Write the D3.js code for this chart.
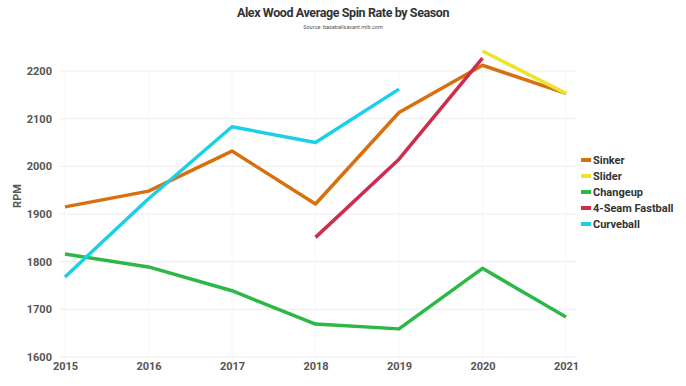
<!DOCTYPE html>
<html>
<head>
<meta charset="utf-8">
<script src="https://cdn.jsdelivr.net/npm/d3@7"></script>
<style>
  body { margin: 0; background: #fff; }
  svg text { font-family: Roboto, "Liberation Sans", sans-serif; }
</style>
</head>
<body>
<div id="chart"></div>
<script>
// data
const years = [2015, 2016, 2017, 2018, 2019, 2020, 2021];
const pitches = ["Sinker", "Slider", "Changeup", "4-Seam Fastball", "Curveball"];
const colors = ["#d9700f", "#ece42a", "#2cb844", "#cc2d4f", "#1ccfe8"];
const sinker = [1915, 1948, 2032, 1921, 2113, 2212, 2153];
const slider = [null, null, null, null, null, 2242, 2153];
const changeup = [1816, 1789, 1739, 1669, 1659, 1786, 1684];
const fourSeam = [null, null, null, 1851, 2015, 2227, null];
const curveball = [1768, 1932, 2083, 2050, 2162, null, null];
const yTicks = [1600, 1700, 1800, 1900, 2000, 2100, 2200];

const series = [sinker, slider, changeup, fourSeam, curveball];

const W = 686, H = 386;
const svg = d3.select("#chart").append("svg")
  .attr("width", W)
  .attr("height", H);

const x = d3.scaleLinear().domain([2015, 2021]).range([65, 566]);
const y = d3.scaleLinear().domain([1600, 2200]).range([357, 71]);

// title
svg.append("text")
  .attr("x", 343).attr("y", 17)
  .attr("text-anchor", "middle")
  .style("font-size", "12.5px").style("font-weight", "bold")
  .style("letter-spacing", "-0.4px")
  .style("fill", "#333")
  .text("Alex Wood Average Spin Rate by Season");
svg.append("text")
  .attr("x", 343).attr("y", 29)
  .attr("text-anchor", "middle")
  .style("font-size", "5.5px")
  .style("fill", "#555")
  .text("Source: baseballsavant.mlb.com");

// horizontal grid
svg.append("g")
  .selectAll("line")
  .data(yTicks)
  .enter()
  .append("line")
    .attr("x1", 60).attr("x2", 576)
    .attr("y1", d => y(d)).attr("y2", d => y(d))
    .style("stroke", "#ececec").style("stroke-width", 1);

// faint vertical grid
svg.append("g")
  .selectAll("line")
  .data(years)
  .enter()
  .append("line")
    .attr("x1", d => x(d)).attr("x2", d => x(d))
    .attr("y1", 71).attr("y2", 365)
    .style("stroke", "#f6f6f6").style("stroke-width", 1);

// y axis labels
const yAxis = svg.append("g")
  .attr("transform", "translate(52,0)")
  .call(d3.axisLeft(y).tickValues(yTicks).tickSize(0).tickPadding(0).tickFormat(d3.format("d")));
yAxis.select(".domain").remove();
yAxis.selectAll("text")
  .style("font-size", "11px").style("font-weight", "bold")
  .style("fill", "#555").style("font-family", "Roboto, sans-serif");

// x axis labels
const xAxis = svg.append("g")
  .attr("transform", "translate(0,360)")
  .call(d3.axisBottom(x).tickValues(years).tickSize(0).tickPadding(0).tickFormat(d3.format("d")));
xAxis.select(".domain").remove();
xAxis.selectAll("text")
  .attr("dy", "0.9em")
  .style("font-size", "11px").style("font-weight", "bold")
  .style("fill", "#555").style("font-family", "Roboto, sans-serif");

// y axis title
svg.append("text")
  .attr("transform", "translate(21,196) rotate(-90)")
  .attr("text-anchor", "middle")
  .style("font-size", "11px").style("font-weight", "bold")
  .style("fill", "#555")
  .text("RPM");

// lines
const line = d3.line()
  .defined(d => d.v != null)
  .x(d => x(d.year))
  .y(d => y(d.v));

series.forEach(function (vals, i) {
  const pts = years.map((yr, j) => ({ year: yr, v: vals[j] }));
  svg.append("path")
    .datum(pts)
    .attr("d", line)
    .style("fill", "none")
    .style("stroke", colors[i])
    .style("stroke-width", 3.5)
    .style("stroke-linejoin", "round");
});

// legend
const legend = svg.append("g").attr("transform", "translate(581,160)");
pitches.forEach(function (name, i) {
  legend.append("rect")
    .attr("x", 0).attr("y", i * 16 - 2)
    .attr("width", 10).attr("height", 4)
    .style("fill", colors[i]);
  legend.append("text")
    .attr("x", 12).attr("y", i * 16 + 4)
    .style("font-size", "11px").style("font-weight", "bold")
    .style("fill", "#333")
    .text(name);
});
</script>
</body>
</html>
